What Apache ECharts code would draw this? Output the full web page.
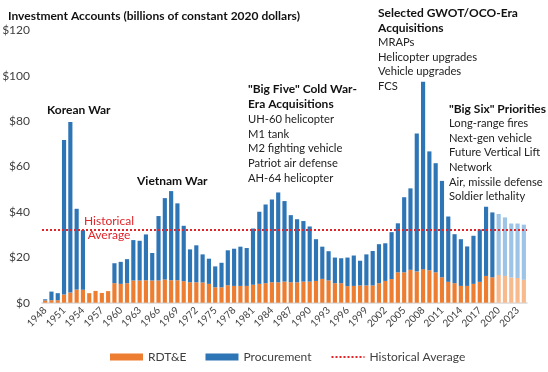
<!DOCTYPE html>
<html><head><meta charset="utf-8">
<script src="https://cdn.jsdelivr.net/npm/echarts@6/dist/echarts.min.js"></script>
<style>html,body{margin:0;padding:0;background:#fff}#c{width:548px;height:372px}</style>
</head><body><div id="c"></div>
<script>
const years = [];
for (let y = 1948; y <= 2024; y++) years.push(String(y));
const rdte = [1.0,1.1,1.1,3.6,4.5,5.8,5.7,4.2,5.2,4.3,5.1,8.6,8.3,8.6,9.8,9.8,9.9,9.8,9.8,10.2,9.9,9.9,9.5,9.0,9.0,8.9,8.3,6.8,6.8,7.7,7.4,7.4,7.4,7.9,8.3,8.6,9.0,9.0,9.3,9.0,9.0,9.3,9.3,9.6,10.5,9.8,8.6,8.6,7.3,7.4,7.6,7.6,7.6,8.6,9.6,10.4,13.4,13.4,14.5,13.7,14.8,14.3,13.4,11.2,9.2,8.6,7.4,7.4,8.3,9.2,11.8,11.2,12.2,11.8,11.1,10.9,10.1];
const procurement = [0.5,3.8,3.1,68.1,75.2,35.6,26.3,0,0,0,0,8.8,9.7,10.6,17.8,17.5,20.2,12.1,28.4,35.9,39.3,33.9,24.4,14.5,16.3,12.4,11.1,9.2,10.8,15.4,16.4,17.3,16.7,24.8,31.8,34.7,36.5,39.6,35.5,29.6,27.8,26.7,24.3,18.4,14.2,12.9,11.3,11.0,12.6,13.4,10.9,13.7,15.2,17.2,16.6,20.7,21.6,33.1,35.9,60.9,82.6,52.4,48.1,42.5,28.8,21.6,20.6,17.4,21.2,23.1,30.5,28.6,26.9,25.8,23.8,24.0,24.3];
const historicalAverage = 32;
const projectionStart = '2020';
const yTicks = [0,20,40,60,80,100,120];

const C_OR = '#ED7D31', C_OR_L = '#F8B98C', C_BL = '#2E75B6', C_BL_L = '#9DC3E6', C_RED = '#E0262B';
const projIdx = years.indexOf(projectionStart);
function styled(arr, dark, light) {
  return arr.map((v, i) => i >= projIdx ? {value: v, itemStyle: {color: light}} : v);
}
const FONT = 'Lato';
const chart = echarts.init(document.getElementById('c'));
function txt(x, y, s, bold, color, size) {
  return {type: 'text', x: x, y: y, style: {text: s, fill: color || '#222', font: (bold ? 'bold 12' : (size || 11.2)) + 'px ' + FONT, verticalAlign: 'middle', align: 'left'}};
}
const graphics = [
  txt(8, 16, 'Investment Accounts (billions of constant 2020 dollars)', true, '#111'),
  txt(47, 110, 'Korean War', true, '#111'),
  txt(137, 181, 'Vietnam War', true, '#111'),
  {type: 'text', x: 109, y: 221, style: {text: 'Historical', fill: C_RED, font: '12px ' + FONT, align: 'center', verticalAlign: 'middle'}},
  {type: 'text', x: 109, y: 235.5, style: {text: 'Average', fill: C_RED, font: '12px ' + FONT, align: 'center', verticalAlign: 'middle'}},
  txt(248, 89.5, '"Big Five" Cold War-', true, '#111'),
  txt(248, 104.3, 'Era Acquisitions', true, '#111'),
  txt(248, 119, 'UH-60 helicopter'),
  txt(248, 134, 'M1 tank'),
  txt(248, 148.5, 'M2 fighting vehicle'),
  txt(248, 163, 'Patriot air defense'),
  txt(248, 178, 'AH-64 helicopter'),
  txt(378, 13.5, 'Selected GWOT/OCO-Era', true, '#111'),
  txt(378, 28, 'Acquisitions', true, '#111'),
  txt(378, 42.5, 'MRAPs'),
  txt(378, 57, 'Helicopter upgrades'),
  txt(378, 71.5, 'Vehicle upgrades'),
  txt(378, 86, 'FCS'),
  txt(449, 109, '"Big Six" Priorities', true, '#111'),
  txt(449, 123.7, 'Long-range fires'),
  txt(449, 138.3, 'Next-gen vehicle'),
  txt(449, 152.7, 'Future Vertical Lift'),
  txt(449, 167, 'Network'),
  txt(449, 182, 'Air, missile defense'),
  txt(449, 196.7, 'Soldier lethality')
];
chart.setOption({
  animation: false,
  textStyle: {fontFamily: FONT},
  grid: {left: 42, right: 21, top: 30.5, bottom: 69.3, outerBoundsMode: 'none'},
  legend: {
    top: 346, left: 105, itemWidth: 33, itemHeight: 7, itemGap: 19,
    textStyle: {fontSize: 12, color: '#404040', fontFamily: FONT},
    data: [{name: 'RDT&E', icon: 'rect'}, {name: 'Procurement', icon: 'rect'},
      {name: 'Historical Average', itemStyle: {opacity: 0}}]
  },
  xAxis: {
    type: 'category', data: years,
    axisTick: {show: false},
    axisLine: {lineStyle: {color: '#D9D9D9', width: 1.5}},
    axisLabel: {interval: 2, rotate: 45, fontSize: 10, color: '#404040', margin: 6}
  },
  yAxis: {
    type: 'value', min: yTicks[0], max: yTicks[yTicks.length - 1], interval: 20,
    splitLine: {show: false}, axisLine: {show: false}, axisTick: {show: false},
    axisLabel: {formatter: v => '$' + v, fontSize: 12, color: '#404040', margin: 12}
  },
  series: [
    {name: 'RDT&E', type: 'bar', stack: 'a', barWidth: '66%', itemStyle: {color: C_OR}, data: styled(rdte, C_OR, C_OR_L)},
    {name: 'Procurement', type: 'bar', stack: 'a', itemStyle: {color: C_BL}, data: styled(procurement, C_BL, C_BL_L),
      markLine: {silent: true, symbol: 'none', label: {show: false},
        lineStyle: {color: C_RED, type: [2, 2], width: 2}, data: [{yAxis: historicalAverage}]}},
    {name: 'Historical Average', type: 'line', data: [], symbol: 'none', showSymbol: false, itemStyle: {color: C_RED},
      lineStyle: {color: C_RED, type: [2, 2], width: 2}}
  ],
  graphic: graphics
});
</script></body></html>
